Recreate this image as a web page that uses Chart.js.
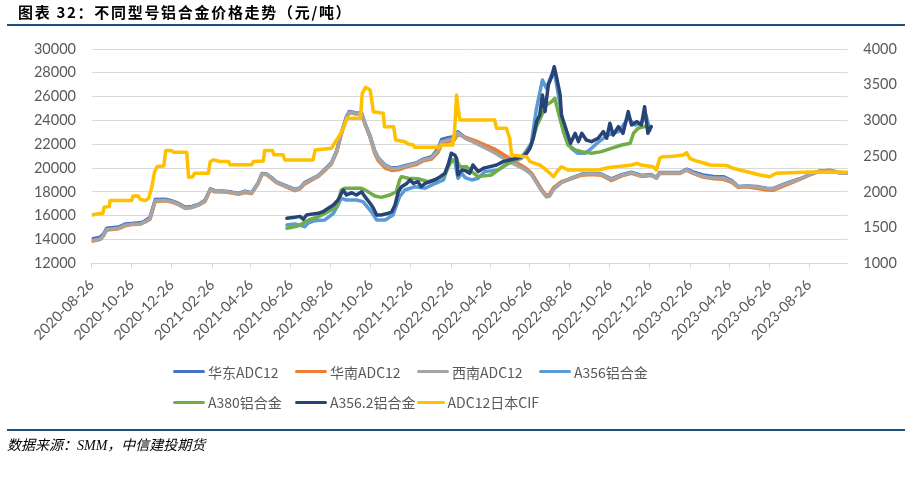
<!DOCTYPE html>
<html>
<head>
<meta charset="utf-8">
<script src="https://cdn.jsdelivr.net/npm/chart.js@4.4.0/dist/chart.umd.min.js"></script>
<style>
html,body{margin:0;padding:0;background:#fff;}
#wrap{position:relative;width:913px;height:493px;overflow:hidden;background:#fff;}
#c{position:absolute;left:0;top:0;}
.title{position:absolute;left:18px;top:2px;font-family:"Noto Sans CJK SC";font-weight:bold;font-size:15px;letter-spacing:1.7px;color:#000;white-space:nowrap;line-height:20px;}
.rule{position:absolute;left:7px;width:898px;height:2px;background:#1f4e79;}
.source{position:absolute;left:7px;top:437px;font-family:"Liberation Serif","Noto Sans CJK SC";font-style:italic;font-size:14px;color:#000;white-space:nowrap;line-height:18px;}
.legend{position:absolute;left:173px;font-family:"Noto Sans CJK SC";font-size:14px;color:#595959;}
.lrow{height:20px;white-space:nowrap;display:flex;align-items:center;}
.litem{width:122px;display:flex;align-items:center;}
.lline{width:32px;height:3px;margin-right:3px;border-radius:1.5px;}
</style>
</head>
<body>
<div id="wrap">
  <canvas id="c" width="913" height="493"></canvas>
  <div class="title">图表 32：不同型号铝合金价格走势（元/吨）</div>
  <div class="rule" style="top:24px"></div>
  <div class="legend" id="legend"></div>
  <div class="rule" style="top:429px"></div>
  <div class="source">数据来源：SMM，中信建投期货</div>
</div>
<script>
// ---------- data ----------
const xTickLabels = ['2020-08-26','2020-10-26','2020-12-26','2021-02-26','2021-04-26','2021-06-26','2021-08-26','2021-10-26','2021-12-26','2022-02-26','2022-04-26','2022-06-26','2022-08-26','2022-10-26','2022-12-26','2023-02-26','2023-04-26','2023-06-26','2023-08-26'];
const axisStart = '2020-08-26';
const axisEnd = '2023-10-24';

const seriesNames = ['华东ADC12','华南ADC12','西南ADC12','A356铝合金','A380铝合金','A356.2铝合金','ADC12日本CIF'];

const adcDates = ['2020-08-26','2020-09-08','2020-09-13','2020-09-18','2020-10-06','2020-10-16','2020-10-26','2020-11-08','2020-11-15','2020-11-23','2020-11-28','2020-12-01','2020-12-16','2020-12-26',
'2021-01-05','2021-01-16','2021-01-26','2021-02-05','2021-02-15','2021-02-23','2021-03-02','2021-03-18','2021-03-28','2021-04-07','2021-04-17','2021-04-27','2021-05-07','2021-05-13','2021-05-20','2021-05-28','2021-06-04','2021-06-17','2021-07-02','2021-07-10','2021-07-17','2021-07-28','2021-08-07','2021-08-17','2021-08-27','2021-09-04','2021-09-11','2021-09-19','2021-09-23','2021-10-02','2021-10-12','2021-10-17','2021-10-25','2021-11-01','2021-11-06','2021-11-17','2021-11-27','2021-12-07','2021-12-20',
'2022-01-04','2022-01-14','2022-01-27','2022-02-06','2022-02-11','2022-02-21','2022-03-03','2022-03-08','2022-03-19','2022-04-03','2022-04-18','2022-05-03','2022-05-19','2022-06-03','2022-06-18','2022-06-28','2022-07-06','2022-07-14','2022-07-21','2022-07-26','2022-08-01','2022-08-13','2022-08-28','2022-09-13','2022-09-28','2022-10-13','2022-10-28','2022-11-13','2022-11-28','2022-12-13','2022-12-28',
'2023-01-05','2023-01-10','2023-01-26','2023-02-10','2023-02-20','2023-03-02','2023-03-17','2023-04-02','2023-04-17','2023-04-30','2023-05-10','2023-05-23','2023-06-07','2023-06-22','2023-07-02','2023-07-12','2023-07-28','2023-08-12','2023-08-27','2023-09-11','2023-09-27','2023-10-12','2023-10-24'];

const eastAdc12 = [14050,14200,14450,14950,15050,15300,15350,15400,15550,15850,16800,17350,17380,17250,
17050,16700,16780,16950,17300,18250,18100,18050,17980,17870,18050,17920,18750,19550,19500,19180,18850,18550,18200,18330,18780,19100,19380,19900,20450,21450,22950,24350,24750,24650,24600,23800,22700,21450,20900,20250,20000,20050,20250,
20450,20750,20950,21650,22400,22550,22650,23050,22550,22150,21750,21350,20800,20350,19950,19550,18850,18150,17650,17700,18250,18800,19150,19500,19550,19500,19100,19450,19650,19380,19450,
19200,19620,19620,19620,19900,19680,19420,19300,19280,18950,18450,18500,18450,18300,18280,18500,18830,19100,19460,19740,19800,19600,19600];

const southAdc12 = [13850,14000,14300,14800,14900,15150,15250,15280,15450,15700,16650,17200,17250,17150,
16950,16600,16680,16880,17200,18180,18000,17980,17900,17800,17950,17850,18700,19480,19450,19100,18780,18450,18100,18250,18650,19000,19300,19800,20350,21350,22850,24250,24650,24550,24550,23700,22550,21250,20650,20000,19800,19850,20100,
20300,20600,20750,21350,22000,22200,22400,22850,22600,22300,21950,21600,21050,20550,20050,19600,18900,18150,17700,17800,18350,18850,19100,19400,19450,19400,18950,19350,19550,19300,19380,
19150,19550,19550,19550,19820,19550,19250,19100,19050,18800,18380,18420,18300,18150,18130,18350,18720,19050,19420,19750,19820,19620,19600];

const southwestAdc12 = [13900,14050,14350,14850,14940,15200,15270,15300,15480,15750,16700,17250,17300,17180,
16980,16620,16700,16900,17230,18200,18070,18020,17940,17830,18020,17880,18720,19500,19470,19140,18800,18500,18170,18300,18730,19060,19340,19850,20400,21400,22900,24300,24700,24600,24600,23760,22640,21400,20830,20200,19950,19980,20180,
20400,20690,20880,21500,22200,22360,22500,22950,22500,22130,21700,21290,20730,20310,19890,19470,18770,18070,17570,17650,18210,18770,19130,19470,19520,19470,19050,19410,19610,19330,19410,
19170,19580,19580,19580,19860,19580,19300,19170,19170,18890,18420,18470,18420,18280,18250,18470,18800,19080,19440,19720,19780,19580,19580];

const a356Dates = ['2021-06-20','2021-07-02','2021-07-10','2021-07-17','2021-07-23','2021-08-02','2021-08-17','2021-08-30','2021-09-06','2021-09-11','2021-09-19','2021-10-04','2021-10-14','2021-10-27','2021-11-04','2021-11-17','2021-11-29','2021-12-09','2021-12-17',
'2022-01-01','2022-01-17','2022-02-01','2022-02-14','2022-02-24','2022-03-03','2022-03-08','2022-03-14','2022-03-19','2022-03-29','2022-04-08','2022-04-18','2022-05-08','2022-05-29','2022-06-13','2022-06-28','2022-07-06','2022-07-15','2022-07-21','2022-07-29','2022-08-03','2022-08-11','2022-08-18','2022-08-28','2022-09-07','2022-09-18','2022-09-28','2022-10-08','2022-10-23','2022-11-08','2022-11-23','2022-12-03','2022-12-13','2022-12-20','2022-12-26'];
const a356Prices = [15220,15300,15200,15070,15400,15580,15640,16200,16900,17460,17320,17320,17180,16330,15640,15640,16060,17600,18160,
18430,18300,18700,19000,20680,20680,19140,19560,19200,19000,19140,19700,19840,20540,20820,22080,25020,27400,26700,27820,27820,25300,22780,21660,21240,21240,21660,22160,22780,23060,24180,23620,23760,24460,23200];

const a380Dates = ['2021-06-20','2021-07-07','2021-07-23','2021-08-07','2021-08-22','2021-09-04','2021-09-11','2021-09-16','2021-10-12','2021-10-22','2021-11-01','2021-11-11','2021-11-24','2021-12-04','2021-12-09','2021-12-12','2021-12-22',
'2022-01-06','2022-01-22','2022-02-06','2022-02-16','2022-02-24','2022-03-01','2022-03-06','2022-03-11','2022-03-21','2022-03-29','2022-04-08','2022-04-28','2022-05-19','2022-06-03','2022-06-18','2022-06-28','2022-07-06','2022-07-14','2022-07-21','2022-07-29','2022-08-03','2022-08-08','2022-08-16','2022-08-23','2022-09-03','2022-09-13','2022-09-28','2022-10-13','2022-10-28','2022-11-13','2022-11-26','2022-12-01','2022-12-08','2022-12-18','2022-12-28'];
const a380Prices = [14940,15130,15640,15910,16330,16750,18160,18300,18300,18010,17650,17540,17740,18010,19000,19280,19140,
19100,18850,19140,19420,20400,20680,20680,20120,20120,19700,19280,19420,20260,20680,21100,21940,23480,24460,25300,25570,25860,24740,23060,21940,21520,21380,21240,21380,21660,21940,22080,22920,23340,23480,23480];

const a3562Dates = ['2021-06-20','2021-07-02','2021-07-10','2021-07-15','2021-07-20','2021-07-30','2021-08-07','2021-08-14','2021-08-22','2021-08-30','2021-09-06','2021-09-14','2021-09-19','2021-09-27','2021-10-04','2021-10-12','2021-10-17','2021-10-25','2021-10-30','2021-11-04','2021-11-11','2021-11-22','2021-11-27','2021-12-02','2021-12-07','2021-12-12','2021-12-20','2021-12-25','2021-12-30',
'2022-01-06','2022-01-11','2022-01-17','2022-01-24','2022-02-01','2022-02-09','2022-02-16','2022-02-21','2022-02-26','2022-03-03','2022-03-06','2022-03-08','2022-03-14','2022-03-19','2022-03-26','2022-03-31','2022-04-08','2022-04-16','2022-04-26','2022-05-06','2022-05-16','2022-05-26','2022-06-06','2022-06-13','2022-06-21','2022-06-26','2022-07-01','2022-07-06','2022-07-11','2022-07-15','2022-07-19','2022-07-24','2022-07-29','2022-08-02','2022-08-06','2022-08-11','2022-08-13','2022-08-18','2022-08-23','2022-08-27','2022-09-03','2022-09-08','2022-09-13','2022-09-20','2022-09-28','2022-10-08','2022-10-16','2022-10-21','2022-10-26','2022-10-31','2022-11-08','2022-11-15','2022-11-23','2022-11-28','2022-12-06','2022-12-13','2022-12-18','2022-12-23','2022-12-28'];
const a3562Prices = [15780,15860,15940,15700,16060,16150,16200,16330,16620,16900,17320,18160,17740,17930,17740,18010,17600,17040,16620,16060,16060,16200,16330,16900,18010,18430,18710,19000,18710,
18850,18430,18710,18850,19000,19280,19560,20260,21240,21100,20820,19420,19840,19800,19560,20260,19700,19980,20120,20260,20540,20680,20820,20960,21240,21660,22500,23900,24460,26140,24740,26980,27670,28510,27540,26140,24460,23620,22780,22080,22920,22220,22920,22360,22220,22500,23060,22500,23760,22780,23480,22920,24740,23620,23900,23620,25150,22920,23480];

const cifDates = ['2020-08-26','2020-09-03','2020-09-12','2020-09-14','2020-09-22','2020-09-23','2020-10-26','2020-10-28','2020-11-05','2020-11-08','2020-11-16','2020-11-21','2020-11-26','2020-11-30','2020-12-04','2020-12-14','2020-12-17','2020-12-26','2020-12-29',
'2021-01-18','2021-01-21','2021-01-27','2021-01-30','2021-02-20','2021-02-23','2021-02-28','2021-03-10','2021-03-23','2021-03-25','2021-04-27','2021-04-30','2021-05-15','2021-05-17','2021-05-29','2021-05-31','2021-06-14','2021-06-17','2021-07-30','2021-08-02','2021-08-27','2021-09-02','2021-09-09','2021-09-15','2021-09-20','2021-10-10','2021-10-13','2021-10-18','2021-10-25','2021-10-30','2021-11-14','2021-11-16','2021-11-30','2021-12-03','2021-12-17','2021-12-22','2021-12-30',
'2022-01-01','2022-01-14','2022-02-08','2022-02-10','2022-02-28','2022-03-03','2022-03-06','2022-03-08','2022-03-11','2022-05-03','2022-05-06','2022-05-21','2022-05-26','2022-05-29','2022-06-21','2022-06-26','2022-07-11','2022-07-21','2022-08-01','2022-08-06','2022-08-13','2022-08-23','2022-10-08','2022-10-23','2022-11-28','2022-12-06','2022-12-13','2022-12-31',
'2023-01-05','2023-01-10','2023-01-15','2023-01-31','2023-02-15','2023-02-20','2023-02-25','2023-03-05','2023-03-17','2023-03-28','2023-04-22','2023-05-02','2023-05-23','2023-06-12','2023-06-27','2023-07-07','2023-07-28','2023-08-27','2023-10-24'];
const cifJapan = [1675,1690,1700,1785,1795,1878,1878,1943,1943,1897,1878,1912,2075,2283,2355,2363,2578,2578,2555,
2555,2205,2210,2262,2262,2425,2448,2425,2425,2378,2378,2425,2433,2578,2578,2520,2520,2446,2446,2586,2610,2702,2800,2912,3030,3030,3380,3464,3426,3122,3100,2912,2912,2726,2702,2670,2656,
2625,2625,2625,2656,2656,2866,3356,3192,3006,3006,2890,2890,2750,2516,2493,2423,2376,2306,2212,2282,2352,2306,2306,2338,2376,2400,2376,2352,
2306,2470,2493,2500,2516,2548,2470,2437,2408,2376,2370,2330,2282,2236,2212,2260,2268,2278,2275];

const seriesColors = ['#4472C4','#ED7D31','#A5A5A5','#5B9BD5','#70AD47','#264478','#FFC000'];

// ---------- helpers ----------
const baseMs = Date.parse(axisStart + 'T00:00:00Z');
function dayIndex(s){ return Math.round((Date.parse(s + 'T00:00:00Z') - baseMs) / 86400000); }
function toPoints(dates, values){ return dates.map((d,i)=>({x: dayIndex(d), y: values[i]})); }

const seriesData = [
  toPoints(adcDates, eastAdc12),
  toPoints(adcDates, southAdc12),
  toPoints(adcDates, southwestAdc12),
  toPoints(a356Dates, a356Prices),
  toPoints(a380Dates, a380Prices),
  toPoints(a3562Dates, a3562Prices),
  toPoints(cifDates, cifJapan)
];

const tickFont = {family: 'Lato', size: 14.5};
const datasets = seriesNames.map((name, i) => ({
  label: name,
  data: seriesData[i],
  borderColor: seriesColors[i],
  backgroundColor: seriesColors[i],
  borderWidth: 3.5,
  pointRadius: 0,
  pointHoverRadius: 0,
  tension: 0,
  borderJoinStyle: 'round',
  borderCapStyle: 'round',
  yAxisID: i === 6 ? 'yR' : 'yL',
  order: 7 - i
}));

const chart = new Chart(document.getElementById('c'), {
  type: 'line',
  data: { datasets },
  options: {
    responsive: false,
    animation: false,
    devicePixelRatio: 1,
    layout: { padding: { top: 49, left: 0, right: 0, bottom: 493 - 263.3 - 80 } },
    plugins: { legend: { display: false }, tooltip: { enabled: false } },
    scales: {
      x: {
        type: 'linear',
        min: dayIndex(axisStart),
        max: dayIndex(axisEnd),
        afterBuildTicks: s => { s.ticks = xTickLabels.map(l => ({ value: dayIndex(l) })); },
        afterFit: s => { s.height = 80; },
        ticks: {
          autoSkip: false, minRotation: 45, maxRotation: 45,
          font: tickFont, color: '#595959', padding: 8,
          callback: (v, i) => xTickLabels[i]
        },
        grid: { drawOnChartArea: false, drawTicks: true, tickLength: 5, color: '#d9d9d9' },
        border: { display: true, color: '#d9d9d9' }
      },
      yL: {
        position: 'left', min: 12000, max: 30000,
        afterFit: s => { s.width = 91.7; },
        ticks: { stepSize: 2000, font: tickFont, color: '#595959', padding: 15.7, callback: v => String(v) },
        grid: { color: '#d9d9d9', drawTicks: false },
        border: { display: false }
      },
      yR: {
        position: 'right', min: 1000, max: 4000,
        afterFit: s => { s.width = 913 - 847.7; },
        ticks: { stepSize: 500, font: tickFont, color: '#595959', padding: 15.6, callback: v => String(v) },
        grid: { display: false, drawTicks: false },
        border: { display: false }
      }
    }
  }
});

// HTML legend (fixed-width columns like the original)
const legendEl = document.getElementById('legend');
const rows = [[0,1,2,3],[4,5,6]];
const rowTops = [361.7, 392.3];
rows.forEach((r, ri) => {
  const row = document.createElement('div');
  row.className = 'lrow';
  row.style.position = 'absolute';
  row.style.top = rowTops[ri] + 'px';
  row.style.left = '0px';
  r.forEach(i => {
    const ds = chart.data.datasets[i];
    const item = document.createElement('div');
    item.className = 'litem';
    const ln = document.createElement('span');
    ln.className = 'lline';
    ln.style.background = ds.borderColor;
    const tx = document.createElement('span');
    tx.textContent = ds.label;
    item.appendChild(ln); item.appendChild(tx);
    row.appendChild(item);
  });
  legendEl.appendChild(row);
});
legendEl.style.top = '0px';
</script>
</body>
</html>
